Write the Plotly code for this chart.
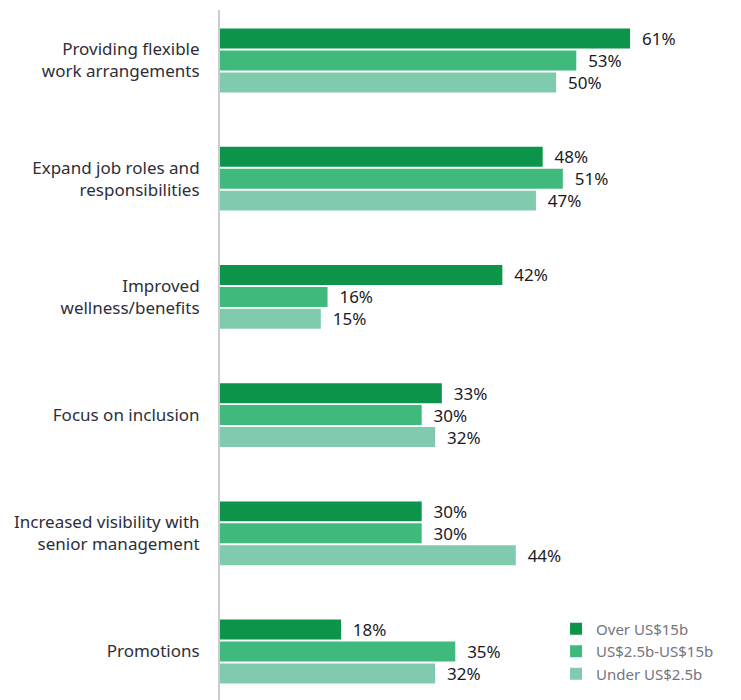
import plotly.graph_objects as go

categories = [
    "Providing flexible<br>work arrangements",
    "Expand job roles and<br>responsibilities",
    "Improved<br>wellness/benefits",
    "Focus on inclusion",
    "Increased visibility with<br>senior management",
    "Promotions",
]
series_names = ["Over US$15b", "US$2.5b-US$15b", "Under US$2.5b"]
over_15b = [61, 48, 42, 33, 30, 18]
mid_range = [53, 51, 16, 30, 30, 35]
under_2_5b = [50, 47, 15, 32, 44, 32]
colors = ["#0c944a", "#40b97c", "#80cbad"]

fig = go.Figure()
for name, vals, col in zip(series_names, [over_15b, mid_range, under_2_5b], colors):
    fig.add_trace(go.Bar(
        y=categories, x=vals, name=name, orientation="h",
        marker=dict(color=col, line=dict(width=0)),
        text=["\u00a0\u00a0" + f"{v}%" for v in vals],
        textposition="outside", constraintext="none", cliponaxis=False,
        textfont=dict(family="Noto Sans", size=17, color="#1a1a24"),
        hoverinfo="skip",
    ))

fig.update_layout(
    width=741, height=700,
    margin=dict(l=212, r=8, t=2, b=8, autoexpand=False),
    paper_bgcolor="white", plot_bgcolor="white",
    barmode="group", bargap=0.443, bargroupgap=0.09,
    font=dict(family="Noto Sans", size=17, color="#2e2e38"),
    xaxis=dict(range=[0, 77.5], showgrid=False, zeroline=False,
               showticklabels=False, ticks="", showline=False, automargin=False),
    yaxis=dict(type="category", range=[5.41, -0.427], showgrid=False,
               zeroline=False, ticks="", showline=True, linecolor="#c8cbd0",
               linewidth=2, ticklabelstandoff=15, automargin=False,
               tickfont=dict(family="Noto Sans", size=17, color="#2e2e38")),
    legend=dict(x=0.645, y=0.1267, xanchor="left", yanchor="top",
                traceorder="normal", bgcolor="rgba(0,0,0,0)",
                font=dict(family="Noto Sans", size=15, color="#747480"),
                tracegroupgap=0, itemwidth=30),
    showlegend=True,
)

fig.write_html("out.html")
